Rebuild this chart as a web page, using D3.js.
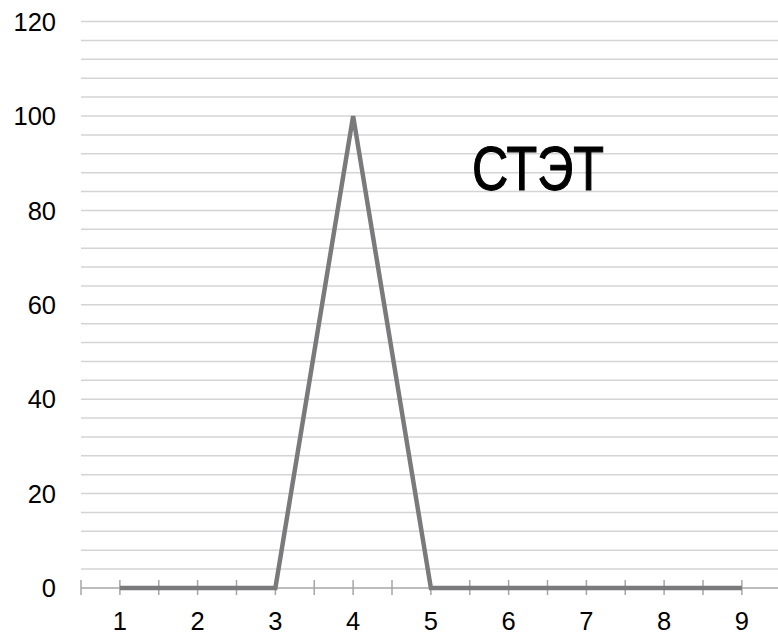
<!DOCTYPE html>
<html>
<head>
<meta charset="utf-8">
<script src="https://cdn.jsdelivr.net/npm/d3@7"></script>
<style>
  body { margin: 0; background: #fff; }
  text { font-family: "Liberation Sans", Arial, sans-serif; }
</style>
</head>
<body>
<div id="chart"></div>
<script>
// data
var categories = ["1", "2", "3", "4", "5", "6", "7", "8", "9"];
var values = [0, 0, 0, 100, 0, 0, 0, 0, 0];
var yTicks = [0, 20, 40, 60, 80, 100, 120];
var yMinorStep = 4;
var title = "СТЭТ";

var svgWidth = 778;
var svgHeight = 633;

var svg = d3.select("#chart")
  .append("svg")
  .attr("width", svgWidth)
  .attr("height", svgHeight);

// scales
var x = d3.scaleBand().domain(categories).range([81, 780.75]);
var y = d3.scaleLinear().domain([0, 120]).range([588, 21.6]);

// gridlines (minor every 4)
var gridVals = d3.range(yMinorStep, 120 + 0.1, yMinorStep);
svg.append("g")
  .selectAll("line")
  .data(gridVals)
  .enter()
  .append("line")
  .attr("x1", 81)
  .attr("x2", svgWidth)
  .attr("y1", d => y(d))
  .attr("y2", d => y(d))
  .attr("stroke", "#d4d4d4")
  .attr("stroke-width", 1.5);

// y labels
svg.append("g")
  .selectAll("text")
  .data(yTicks)
  .enter()
  .append("text")
  .attr("x", 56)
  .attr("y", d => y(d))
  .attr("dy", "0.36em")
  .attr("text-anchor", "end")
  .attr("font-size", "25.5px")
  .attr("fill", "#000")
  .text(d => d);

// x axis line
svg.append("line")
  .attr("x1", 81)
  .attr("x2", svgWidth)
  .attr("y1", y(0))
  .attr("y2", y(0))
  .attr("stroke", "#a6a6a6")
  .attr("stroke-width", 1.5);

// ticks at band edges and centers
var tickPos = [];
categories.forEach(function(c) {
  tickPos.push(x(c));
  tickPos.push(x(c) + x.bandwidth() / 2);
});
svg.append("g")
  .selectAll("line")
  .data(tickPos)
  .enter()
  .append("line")
  .attr("x1", d => d)
  .attr("x2", d => d)
  .attr("y1", y(0) - 8)
  .attr("y2", y(0) + 7)
  .attr("stroke", "#a6a6a6")
  .attr("stroke-width", 1.5);

// x labels
svg.append("g")
  .selectAll("text")
  .data(categories)
  .enter()
  .append("text")
  .attr("x", d => x(d) + x.bandwidth() / 2)
  .attr("y", 630)
  .attr("text-anchor", "middle")
  .attr("font-size", "25.5px")
  .attr("fill", "#000")
  .text(d => d);

// series line
var line = d3.line()
  .x((d, i) => x(categories[i]) + x.bandwidth() / 2)
  .y(d => y(d));

svg.append("path")
  .datum(values)
  .attr("d", line)
  .attr("fill", "none")
  .attr("stroke", "#7a7a7c")
  .attr("stroke-width", 4.5)
  .attr("stroke-linejoin", "miter");

// title label inside plot
svg.append("text")
  .attr("x", 472)
  .attr("y", 190)
  .attr("font-size", "63px")
  .attr("textLength", 132)
  .attr("lengthAdjust", "spacingAndGlyphs")
  .attr("fill", "#000")
  .attr("stroke", "#000")
  .attr("stroke-width", 1.2)
  .text(title);
</script>
</body>
</html>
